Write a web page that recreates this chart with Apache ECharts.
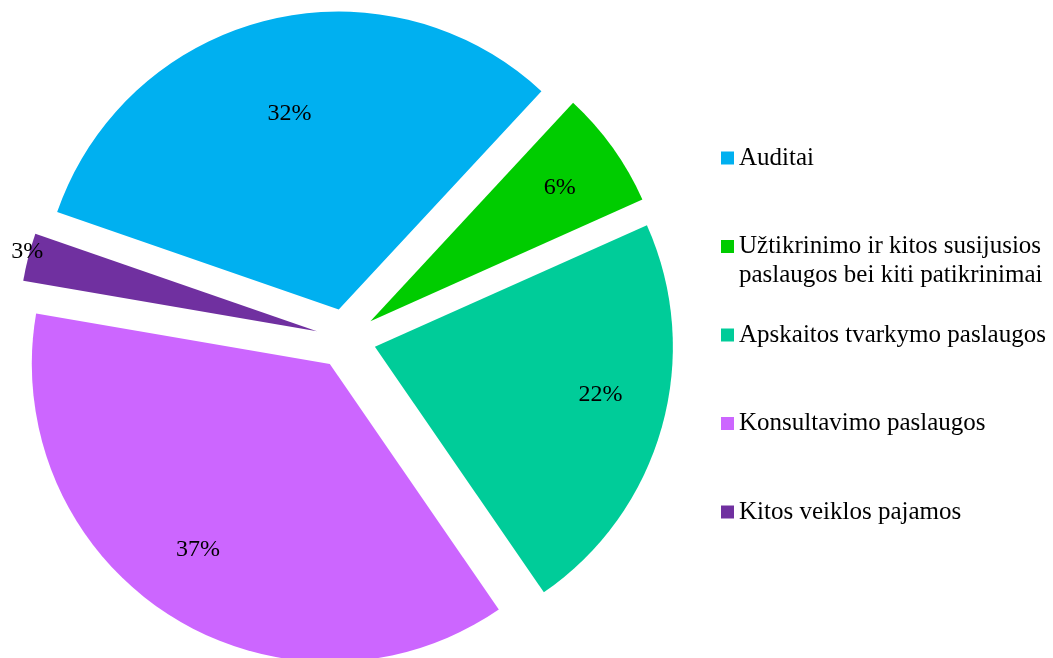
<!DOCTYPE html>
<html>
<head>
<meta charset="utf-8">
<script src="https://cdn.jsdelivr.net/npm/echarts@6/dist/echarts.min.js"></script>
<style>
  html, body { margin: 0; padding: 0; background: #fff; }
  #chart { width: 1053px; height: 658px; }
</style>
</head>
<body>
<div id="chart"></div>
<script>
var chart = echarts.init(document.getElementById('chart'));

// pajamų struktūra
var names = ['Auditai', 'Užtikrinimo ir kitos susijusios paslaugos bei kiti patikrinimai', 'Apskaitos tvarkymo paslaugos', 'Konsultavimo paslaugos', 'Kitos veiklos pajamos'];
var values = [31.6, 6.4, 22.1, 37.3, 2.6];
var colors = ['#00b0f0', '#00cc00', '#00cc99', '#cc66ff', '#7030a0'];

var serif = 'Liberation Serif';
var pieCenter = [346, 338.7];

function pctLabel(p) {
    return '{v|' + Math.round(p.percent) + '%}';
}
var pctRich = { v: { fontFamily: serif, fontSize: 24, color: '#000' } };

var pieData = names.map(function (n, i) {
    var item = { name: n, value: values[i], selected: true, itemStyle: { color: colors[i] } };
    if (i === 4) {
        // mazas gabalas - etiketė už ribos
        item.label = {
            show: true, position: 'outside', distanceToLabelLine: -15,
            padding: [0, 0, 10, 0],
            formatter: pctLabel, rich: pctRich
        };
        item.labelLine = { show: false, length: 0, length2: 0 };
    }
    return item;
});

// nematomas sluoksnis tik procentų etiketėms (padding pastumia tekstą)
var labelPads = [[50, 0, 0, 12], [0, 0, 2, 8], [0, 0, 28, 12], [0, 18, 12, 0], [0, 0, 0, 0]];
var labelData = names.map(function (n, i) {
    return {
        name: n, value: values[i], selected: true,
        itemStyle: { color: 'rgba(0,0,0,0)' },
        label: { show: i !== 4, padding: labelPads[i] }
    };
});

var option = {
    animation: false,
    legend: {
        orient: 'vertical',
        left: 721,
        top: 114.5,
        padding: 0,
        itemGap: 1.5,
        itemWidth: 13,
        itemHeight: 13,
        icon: 'rect',
        selectedMode: false,
        formatter: function (name) {
            return '{a|' + name.replace('susijusios ', 'susijusios}\n{a|') + '}';
        },
        textStyle: {
            padding: [29, 0, 29, 0],
            backgroundColor: 'rgba(0,0,0,0)',
            rich: {
                a: { fontFamily: serif, fontSize: 25, lineHeight: 29, color: '#000' }
            }
        },
        data: [
            names[0],
            { name: names[1], textStyle: { padding: [29, 0, 0, 0] } },
            names[2], names[3], names[4]
        ]
    },
    series: [
        {
            type: 'pie',
            center: pieCenter,
            radius: 298,
            startAngle: 160.9,
            clockwise: true,
            selectedMode: 'multiple',
            selectedOffset: 30,
            avoidLabelOverlap: false,
            emphasis: { disabled: true },
            select: { itemStyle: { borderWidth: 0 } },
            itemStyle: { borderWidth: 0 },
            label: { show: false },
            labelLine: { show: false },
            data: pieData
        },
        {
            type: 'pie',
            silent: true,
            center: pieCenter,
            radius: 450,
            startAngle: 160.9,
            clockwise: true,
            selectedMode: 'multiple',
            selectedOffset: 30,
            avoidLabelOverlap: false,
            emphasis: { disabled: true },
            select: { itemStyle: { borderWidth: 0 } },
            itemStyle: { borderWidth: 0 },
            label: {
                position: 'inside',
                formatter: pctLabel,
                rich: pctRich
            },
            labelLine: { show: false },
            data: labelData
        }
    ]
};
chart.setOption(option);
</script>
</body>
</html>
